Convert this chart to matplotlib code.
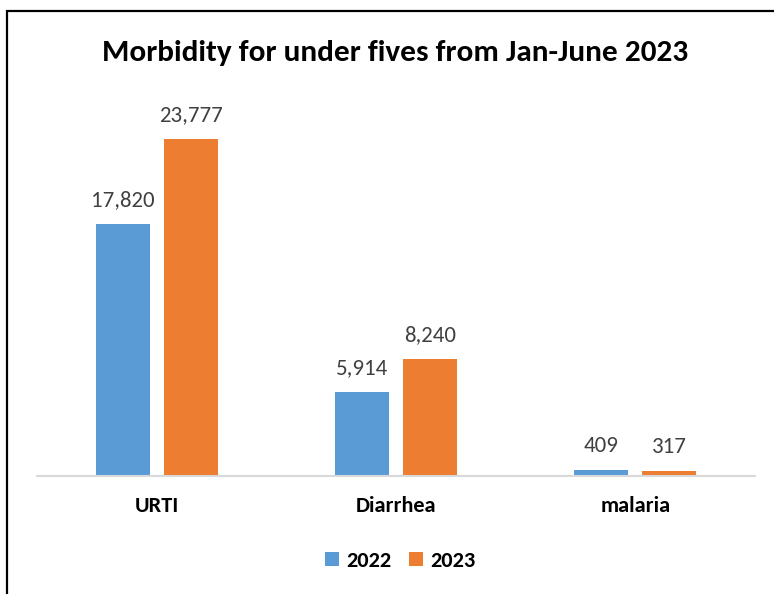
from matplotlib import pyplot as plt
from matplotlib.patches import Rectangle
import numpy as np

categories = ['URTI', 'Diarrhea', 'malaria']
series_names = ['2022', '2023']
values_2022 = [17820, 5914, 409]
values_2023 = [23777, 8240, 317]

plt.rcParams['font.family'] = ['Carlito', 'Lato', 'DejaVu Sans']

W, H = 774, 594
fig = plt.figure(figsize=(W / 100, H / 100), dpi=100)

# plot area in pixel terms of the reference
left, right, base, top = 37, 755, 475.5, 122
ax = fig.add_axes([left / W, 1 - base / H, (right - left) / W, (base - top) / H])

x = np.arange(len(categories))
bar_w = 0.226
offset = 0.142
colors = ['#5b9bd5', '#ed7d31']

for vals, off, col, name in zip([values_2022, values_2023], [-offset, offset], colors, series_names):
    bars = ax.bar(x + off, vals, width=bar_w, color=col, label=name, zorder=2)
    ax.bar_label(bars, labels=[f'{v:,}' for v in vals], padding=10,
                 fontsize=16.5, color='#404040')

ax.set_xlim(-0.5, len(categories) - 0.5)
ax.set_ylim(0, 25000)
ax.set_yticks([])
ax.set_xticks(x)
ax.set_xticklabels(categories, fontsize=16, fontweight='bold', color='black')
ax.tick_params(axis='x', length=0, pad=15)
for side in ['top', 'right', 'left']:
    ax.spines[side].set_visible(False)
ax.spines['bottom'].set_color('#d9d9d9')
ax.spines['bottom'].set_linewidth(1.5)
ax.spines['bottom'].set_zorder(3)

fig.text(395 / W, 1 - 53 / H, 'Morbidity for under fives from Jan-June 2023',
         ha='center', va='center', fontsize=22.5, fontweight='bold')

leg = fig.legend(loc='center', bbox_to_anchor=(400 / W, 1 - 561 / H), ncol=2, frameon=False,
                 prop={'size': 16, 'weight': 'bold'}, handlelength=0.63, handleheight=0.63,
                 handletextpad=0.32, columnspacing=0.8)

# chart border (left and top edges visible)
fig.patches.append(Rectangle((6.5 / W, -0.1), 1.2, 1 - 10.5 / H + 0.1, transform=fig.transFigure,
                             fill=False, edgecolor='black', linewidth=1.6))

fig.savefig('out.png', dpi=100)
